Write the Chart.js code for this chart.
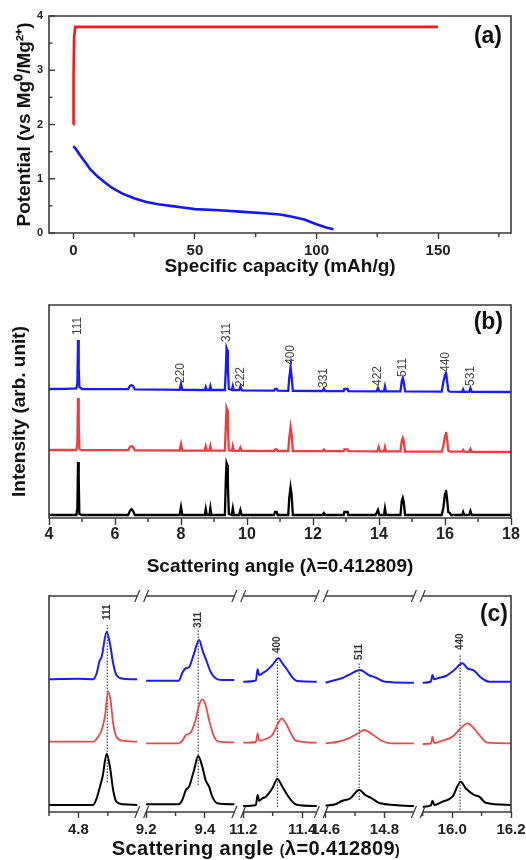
<!DOCTYPE html>
<html>
<head>
<meta charset="utf-8">
<script src="https://cdn.jsdelivr.net/npm/chart.js@4.4.0/dist/chart.umd.min.js"></script>
<style>
  body { margin: 0; background: #fff; }
  canvas { position: absolute; left: 0; }
</style>
</head>
<body>
<canvas id="chartA" width="526" height="280" style="top:0"></canvas>
<canvas id="chartB" width="526" height="300" style="top:280px"></canvas>
<canvas id="chartC" width="526" height="280" style="top:580px"></canvas>
<script>
// ---- (a) charge / discharge ----
const capMajor = [0, 50, 100, 150];
const capMinor = [25, 75, 125, 175];
const potMajor = [0, 1, 2, 3, 4];
const potMinor = [0.5, 1.5, 2.5, 3.5];
const chargeCurve = [[0, 2.0], [0.05, 2.2], [0.15, 2.9], [0.3, 3.6], [0.8, 3.8], [40, 3.8], [80, 3.8], [120, 3.8], [150, 3.8]];
const dischargeCurve = [[0, 1.6], [1, 1.55], [3, 1.42], [5, 1.3], [7, 1.17], [10, 1.04], [13, 0.93], [16, 0.83],
  [20, 0.73], [25, 0.64], [30, 0.57], [35, 0.53], [40, 0.5], [45, 0.47], [50, 0.44], [60, 0.42], [70, 0.39],
  [80, 0.36], [85, 0.34], [90, 0.3], [95, 0.25], [100, 0.16], [104, 0.1], [107, 0.07]];

// ---- (b) full XRD patterns (offset, arb. units) ----
const angleMajor = [4, 6, 8, 10, 12, 14, 16, 18];
const angleMinor = [5, 7, 9, 11, 13, 15, 17];
const blueB = [[4.0,129],[4.5,129.2],[4.83,129.5],[4.86,135],[4.88,178],[4.9,150],[4.92,131],[5.0,129],
  [5.5,128.8],[6.4,128.8],[6.45,132],[6.5,133],[6.55,132],[6.6,128.6],
  [7.5,128.3],[7.96,128.2],[8.0,134],[8.04,128.1],
  [8.72,128],[8.75,131],[8.78,128],[8.86,128],[8.89,132],[8.92,128],
  [9.33,128],[9.36,150],[9.38,170],[9.4,168],[9.42,150],[9.45,129],[9.54,128],[9.57,132],[9.6,127.8],
  [9.76,127.8],[9.8,131.5],[9.84,127.7],
  [10.82,127.3],[10.85,129],[10.9,129],[10.93,127.3],
  [11.25,127.2],[11.28,140],[11.32,151],[11.35,142],[11.39,127.2],
  [12.29,127],[12.33,129.5],[12.37,127],
  [12.93,126.9],[12.95,129],[13.05,129],[13.07,126.9],
  [13.93,126.7],[13.97,130],[14.01,126.7],[14.15,126.7],[14.18,131.5],[14.21,126.7],
  [14.65,126.6],[14.69,137],[14.72,140],[14.75,136],[14.79,126.6],
  [15.9,126.3],[15.95,136],[16.0,143],[16.03,146],[16.06,138],[16.1,127.5],[16.15,126.3],
  [16.52,126.2],[16.55,128.5],[16.58,126.2],[16.73,126.2],[16.77,130],[16.81,126.2],
  [18.0,126]];
const redB = [[4.0,68],[4.5,68],[4.83,68],[4.86,75],[4.88,120],[4.9,95],[4.92,69],[5.0,67.9],
  [6.4,67.8],[6.45,71],[6.5,72],[6.55,71],[6.6,67.7],
  [7.5,67.6],[7.96,67.5],[8.0,74],[8.04,67.5],
  [8.72,67.4],[8.75,71.5],[8.78,67.4],[8.86,67.4],[8.89,72],[8.92,67.4],
  [9.33,67.3],[9.36,95],[9.38,110],[9.4,108],[9.42,92],[9.45,68],[9.54,67.3],[9.57,72],[9.6,67.2],
  [9.76,67.2],[9.8,70.5],[9.84,67.2],
  [10.82,67],[10.85,68.5],[10.9,68.5],[10.93,67],
  [11.25,67],[11.28,80],[11.32,91],[11.35,84],[11.39,67],
  [12.29,66.9],[12.33,68.5],[12.37,66.9],
  [12.93,66.8],[12.95,68.5],[13.05,68.5],[13.07,66.8],
  [13.95,66.7],[13.99,71],[14.03,66.7],[14.15,66.6],[14.18,71],[14.21,66.6],
  [14.65,66.6],[14.69,77],[14.72,80],[14.75,77],[14.79,66.5],
  [15.9,66.4],[15.95,72],[16.0,82],[16.03,86],[16.06,80],[16.1,67.5],[16.15,66.4],
  [16.52,66.3],[16.55,68],[16.58,66.3],[16.73,66.2],[16.77,69],[16.81,66.2],
  [18.0,66]];
const blackB = [[4.0,3],[4.83,3],[4.86,10],[4.88,56],[4.9,40],[4.92,4],[5.0,3],
  [6.4,3],[6.45,7],[6.5,9],[6.55,7],[6.6,3],
  [7.96,3],[8.0,11],[8.04,3],
  [8.72,3],[8.75,9],[8.78,3],[8.86,3],[8.89,10],[8.92,3],
  [9.33,3],[9.36,40],[9.38,55],[9.4,53],[9.42,35],[9.45,4],[9.54,3],[9.57,9.5],[9.6,3],
  [9.76,3],[9.8,8],[9.84,3],
  [10.82,3],[10.85,6],[10.9,6],[10.93,3],
  [11.25,3],[11.28,20],[11.32,31],[11.35,24],[11.39,3],
  [12.29,3],[12.33,5],[12.37,3],
  [12.93,3],[12.95,6],[13.05,6],[13.07,3],
  [13.9,3],[13.97,8],[14.01,3],[14.15,3],[14.18,9.5],[14.21,3],
  [14.65,3],[14.69,17],[14.72,20],[14.75,16],[14.79,3],
  [15.9,3],[15.95,10],[16.0,24],[16.03,28],[16.06,20],[16.1,6],[16.15,5],[16.18,3],
  [16.52,3],[16.55,6],[16.58,3],[16.73,3],[16.77,7],[16.81,3],
  [18.0,3]];
const bPeakLabels = ['111', '220', '311', '222', '400', '331', '422', '511', '440', '531'];
const bPeakPos = [4.88, 8.0, 9.38, 9.8, 11.32, 12.33, 13.97, 14.72, 16.03, 16.77];
const bPeakLabelY = [183, 135, 176, 131, 153, 130, 132, 141, 146, 132];

// ---- (c) zoomed peaks on a broken axis ----
const cSegLo = [4.7, 9.2, 11.2, 14.6, 15.9];
const cSegHi = [5.0, 9.5, 11.45, 14.9, 16.2];
const cMajor = [4.8, 9.2, 9.4, 11.2, 11.4, 14.6, 14.8, 16.0, 16.2];
const cMinor = [4.7, 4.9, 9.3, 11.3, 14.7, 15.9, 16.1];
const blueC = [
  [[4.70,132.7],[4.80,133.3],[4.85,132.7],[4.862,138.7],[4.871,150.3],[4.879,155.3],[4.896,180.3],[4.907,168.7],[4.918,148.7],[4.929,137],[4.952,133.3],[5.0,132.7]],
  [[9.2,131.3],[9.31,131.3],[9.325,140.3],[9.335,143.7],[9.346,144.7],[9.363,158.7],[9.38,172],[9.393,160.3],[9.402,153.7],[9.419,140.3],[9.436,133.7],[9.459,132],[9.5,132]],
  [[11.2,130.3],[11.243,131.5],[11.249,142.7],[11.254,137],[11.265,138.7],[11.282,142],[11.299,147],[11.32,153.7],[11.333,148.7],[11.35,142],[11.367,134.7],[11.384,131],[11.45,130.3]],
  [[14.6,129.3],[14.633,132],[14.655,133.7],[14.678,137],[14.718,142],[14.746,137],[14.768,134.7],[14.802,130.3],[14.9,129.3]],
  [[15.9,129.3],[15.928,130.5],[15.933,137],[15.939,132.7],[15.956,134.3],[15.979,136],[16.007,142],[16.035,148.7],[16.052,143.7],[16.075,141.3],[16.097,134.7],[16.125,130.3],[16.2,130.3]]
];
const redC = [
  [[4.70,70.3],[4.85,70.3],[4.867,75.3],[4.879,82],[4.89,95.3],[4.901,120.3],[4.909,112],[4.918,88.7],[4.929,75.3],[4.952,71.3],[5.0,70.3]],
  [[9.2,68.7],[9.31,68.7],[9.323,71.3],[9.335,77],[9.351,79.3],[9.368,92],[9.38,107],[9.391,112.7],[9.402,107],[9.414,92],[9.431,75.3],[9.447,70.3],[9.5,69.7]],
  [[11.2,69.3],[11.243,70],[11.249,78.7],[11.254,71.3],[11.277,73],[11.299,77],[11.316,87],[11.331,93.7],[11.345,88.7],[11.362,78.7],[11.379,71.3],[11.45,69.3]],
  [[14.6,68.7],[14.644,70.3],[14.678,73.7],[14.706,78],[14.732,82],[14.757,78],[14.791,71.3],[14.825,68.7],[14.9,68.7]],
  [[15.9,68],[15.928,68.5],[15.933,75.3],[15.939,69],[15.967,71.3],[16.001,75.3],[16.029,83.7],[16.052,88.7],[16.069,85.3],[16.097,75.3],[16.12,69.3],[16.2,68.7]]
];
const blackC = [
  [[4.70,7],[4.85,7],[4.862,13.7],[4.873,25.3],[4.882,35.3],[4.896,58],[4.907,45.3],[4.918,22],[4.929,10.3],[4.952,7.7],[5.0,7]],
  [[9.2,7.7],[9.31,7.7],[9.323,12],[9.335,22],[9.346,25.3],[9.363,42],[9.377,56],[9.391,45.3],[9.402,32],[9.414,25.3],[9.425,15.3],[9.442,8.7],[9.5,7.7]],
  [[11.2,6],[11.243,7],[11.249,17],[11.254,11.3],[11.265,13.7],[11.277,15.3],[11.299,23.7],[11.316,33],[11.333,25.3],[11.35,17],[11.367,10.3],[11.384,7],[11.45,6]],
  [[14.6,6.3],[14.633,7.7],[14.655,11],[14.684,13.7],[14.714,22],[14.735,17],[14.757,13.7],[14.785,8.7],[14.9,6]],
  [[15.9,5.3],[15.928,6.7],[15.933,11.3],[15.939,7],[15.967,10.3],[16.001,15.3],[16.029,30.3],[16.046,23.7],[16.075,17],[16.092,15.3],[16.114,9.3],[16.2,7]]
];
const cPeakLabels = ['111', '311', '400', '511', '440'];
const cPeakPos = [4.898, 9.377, 11.316, 14.714, 16.027];
const cRefTop = [187, 182, 150, 149, 157];
const cRefBottom = [30, 27, 5, 12, 2];
const cPeakLabelY = [192, 184, 159, 152, 162];

Chart.defaults.font.family = "'Liberation Sans', Arial, sans-serif";
Chart.defaults.color = '#222';

const FRAME = '#383838';
const FONT = "'Liberation Sans', Arial, sans-serif";
const toXY = pts => pts.map(p => ({ x: p[0], y: p[1] }));

// broken-axis mapping for panel (c)
const cGap = 0.03;
const cSegOff = [];
cSegLo.forEach((lo, i) => {
  cSegOff.push(i === 0 ? 0 : cSegOff[i - 1] + (cSegHi[i - 1] - cSegLo[i - 1]) + cGap);
});
const cMax = cSegOff[cSegOff.length - 1] + cSegHi[cSegHi.length - 1] - cSegLo[cSegLo.length - 1];
function toComp(v) {
  for (let i = 0; i < cSegLo.length; i++) {
    if (v >= cSegLo[i] - 1e-9 && v <= cSegHi[i] + 1e-9) return cSegOff[i] + v - cSegLo[i];
  }
  return NaN;
}
function segmentsToData(segs) {
  const out = [];
  segs.forEach(seg => {
    seg.forEach(p => out.push({ x: toComp(p[0]), y: p[1] }));
    out.push({ x: toComp(seg[seg.length - 1][0]), y: null });
  });
  return out;
}

// frame, minor ticks, break marks
const framePlugin = {
  id: 'frame',
  afterDatasetsDraw(chart, args, o) {
    const { ctx, chartArea: a, scales } = chart;
    const line = (x1, y1, x2, y2) => { ctx.beginPath(); ctx.moveTo(x1, y1); ctx.lineTo(x2, y2); ctx.stroke(); };
    ctx.save();
    ctx.strokeStyle = FRAME;
    ctx.lineWidth = 1.6;
    line(a.left, a.top - 0.8, a.left, a.bottom + 0.8);
    line(a.right, a.top - 0.8, a.right, a.bottom + 0.8);
    const spans = o.spans
      ? o.spans.map(s => [scales.x.getPixelForValue(s[0]), scales.x.getPixelForValue(s[1])])
      : [[a.left, a.right]];
    spans.forEach(([l, r]) => { line(l, a.top, r, a.top); line(l, a.bottom, r, a.bottom); });
    ctx.lineWidth = 1.2;
    if (o.spans) {
      spans.forEach(([l, r], i) => {
        [a.top, a.bottom].forEach(y => {
          if (i > 0) line(l - 2.5, y + 6, l + 2.5, y - 6);
          if (i < spans.length - 1) line(r - 2.5, y + 6, r + 2.5, y - 6);
        });
      });
    }
    ctx.lineWidth = 1.4;
    (o.xMinor || []).forEach(v => {
      const p = scales.x.getPixelForValue(v);
      line(p, a.bottom, p, a.bottom + (o.minorLen || 4));
    });
    (o.yMajorIn || []).forEach(v => {
      const p = scales.y.getPixelForValue(v);
      line(a.left, p, a.left + 6, p);
    });
    (o.yMinorIn || []).forEach(v => {
      const p = scales.y.getPixelForValue(v);
      line(a.left, p, a.left + 3.5, p);
    });
    ctx.restore();
  }
};

// panel letter, rotated peak labels, optional mixed-size axis title
const textPlugin = {
  id: 'texts',
  afterDraw(chart, args, o) {
    const { ctx, chartArea: a, scales } = chart;
    ctx.save();
    ctx.fillStyle = '#111';
    ctx.font = 'bold 23px ' + FONT;
    ctx.textAlign = 'right';
    ctx.textBaseline = 'middle';
    ctx.fillText(o.panel, a.right - o.panelDx, a.top + o.panelDy);
    if (o.labels) {
      ctx.font = o.labelFont;
      ctx.fillStyle = o.labelColor;
      ctx.textAlign = 'left';
      o.labels.forEach((t, i) => {
        const x = scales.x.getPixelForValue(o.labelX[i]);
        const y = scales.y.getPixelForValue(o.labelY[i]);
        ctx.save();
        ctx.translate(x, y);
        ctx.rotate(-Math.PI / 2);
        ctx.fillText(t, 0, 0);
        ctx.restore();
      });
    }
    if (o.titleParts) {
      ctx.fillStyle = '#111';
      ctx.textAlign = 'left';
      ctx.textBaseline = 'alphabetic';
      if ('letterSpacing' in ctx) ctx.letterSpacing = o.titleSpacing || '0px';
      let total = 0;
      o.titleParts.forEach(p => { ctx.font = 'bold ' + p[1] + 'px ' + FONT; total += ctx.measureText(p[0]).width; });
      let x = o.titleX - total / 2;
      o.titleParts.forEach(p => {
        ctx.font = 'bold ' + p[1] + 'px ' + FONT;
        ctx.fillText(p[0], x, o.titleY);
        x += ctx.measureText(p[0]).width;
      });
    }
    ctx.restore();
  }
};

const baseLine = { pointRadius: 0, tension: 0, fill: false, spanGaps: false };
const noPlugins = { legend: { display: false }, tooltip: { enabled: false } };

// Panel (a)
new Chart(document.getElementById('chartA'), {
  type: 'line',
  data: {
    datasets: [
      { ...baseLine, data: toXY(chargeCurve), borderColor: '#ff1414', borderWidth: 2.6 },
      { ...baseLine, data: toXY(dischargeCurve), borderColor: '#1414ff', borderWidth: 2.6 }
    ]
  },
  options: {
    responsive: false,
    animation: false,
    layout: { padding: { left: 0, right: 15, top: 16, bottom: 0 } },
    plugins: {
      ...noPlugins,
      frame: { xMinor: capMinor, yMajorIn: potMajor, yMinorIn: potMinor },
      texts: { panel: '(a)', panelDx: 9, panelDy: 21 }
    },
    scales: {
      x: {
        type: 'linear', min: -10, max: 180,
        afterBuildTicks: s => { s.ticks = capMajor.map(v => ({ value: v })); },
        afterFit: s => { s.height = 47; s.paddingLeft = 0; s.paddingRight = 0; },
        border: { display: false },
        grid: { drawOnChartArea: false, tickLength: 6, tickWidth: 1.4, tickColor: FRAME },
        ticks: { autoSkip: false, maxRotation: 0, padding: 3, color: '#222', font: { size: 15, weight: 'bold' } },
        title: { display: true, text: 'Specific capacity (mAh/g)', color: '#111', font: { size: 19, weight: 'bold' }, padding: { top: 0, bottom: 2 } }
      },
      y: {
        min: 0, max: 4,
        afterBuildTicks: s => { s.ticks = potMajor.map(v => ({ value: v })); },
        afterFit: s => { s.width = 49; s.paddingTop = 0; s.paddingBottom = 0; },
        border: { display: false },
        grid: { display: false, drawTicks: false },
        ticks: { padding: 6, color: '#222', font: { size: 11, weight: 'bold' } },
        title: { display: true, text: 'Potential (vs Mg⁰/Mg²⁺)', color: '#111', font: { size: 19, weight: 'bold' }, padding: { top: 13, bottom: 0 } }
      }
    }
  },
  plugins: [framePlugin, textPlugin]
});

// Panel (b)
new Chart(document.getElementById('chartB'), {
  type: 'line',
  data: {
    datasets: [
      { ...baseLine, data: toXY(blueB), borderColor: '#1a1aff', borderWidth: 2.3 },
      { ...baseLine, data: toXY(redB), borderColor: '#f23c3c', borderWidth: 2.3 },
      { ...baseLine, data: toXY(blackB), borderColor: '#000000', borderWidth: 2.3 }
    ]
  },
  options: {
    responsive: false,
    animation: false,
    layout: { padding: { left: 0, right: 15, top: 25, bottom: 0 } },
    plugins: {
      ...noPlugins,
      frame: { xMinor: angleMinor, minorLen: 4 },
      texts: {
        panel: '(b)', panelDx: 8, panelDy: 18,
        labels: bPeakLabels, labelX: bPeakPos, labelY: bPeakLabelY,
        labelFont: '12px ' + FONT, labelColor: '#444'
      }
    },
    scales: {
      x: {
        type: 'linear', min: 4, max: 18,
        afterBuildTicks: s => { s.ticks = angleMajor.map(v => ({ value: v })); },
        afterFit: s => { s.height = 62; s.paddingLeft = 0; s.paddingRight = 0; },
        border: { display: false },
        grid: { drawOnChartArea: false, tickLength: 7, tickWidth: 1.4, tickColor: FRAME },
        ticks: { autoSkip: false, maxRotation: 0, padding: 0, color: '#222', font: { size: 16, weight: 'bold' } },
        title: { display: true, text: 'Scattering angle (λ=0.412809)', color: '#111', font: { size: 19, weight: 'bold' }, padding: { top: 0, bottom: 2 } }
      },
      y: {
        min: 0, max: 213,
        afterFit: s => { s.width = 49; s.paddingTop = 0; s.paddingBottom = 0; },
        border: { display: false },
        grid: { display: false, drawTicks: false },
        ticks: { display: false },
        title: { display: true, text: 'Intensity (arb. unit)', color: '#111', font: { size: 19, weight: 'bold' }, padding: { top: 8, bottom: 0 } }
      }
    }
  },
  plugins: [framePlugin, textPlugin]
});

// Panel (c)
const refLines = [];
cPeakPos.forEach((p, i) => {
  refLines.push({ x: toComp(p), y: cRefBottom[i] }, { x: toComp(p), y: cRefTop[i] }, { x: toComp(p), y: null });
});
const smooth = { cubicInterpolationMode: 'monotone' };
new Chart(document.getElementById('chartC'), {
  type: 'line',
  data: {
    datasets: [
      { ...baseLine, ...smooth, data: segmentsToData(blueC), borderColor: '#1a1aff', borderWidth: 2 },
      { ...baseLine, ...smooth, data: segmentsToData(redC), borderColor: '#f24646', borderWidth: 1.8 },
      { ...baseLine, ...smooth, data: segmentsToData(blackC), borderColor: '#000000', borderWidth: 2 },
      { ...baseLine, data: refLines, borderColor: '#222', borderWidth: 1, borderDash: [1.5, 1.5] }
    ]
  },
  options: {
    responsive: false,
    animation: false,
    layout: { padding: { left: 0, right: 15, top: 16, bottom: 0 } },
    plugins: {
      ...noPlugins,
      frame: {
        spans: cSegLo.map((lo, i) => [cSegOff[i], cSegOff[i] + cSegHi[i] - lo]),
        xMinor: cMinor.map(toComp), minorLen: 4
      },
      texts: {
        panel: '(c)', panelDx: 3, panelDy: 19,
        labels: cPeakLabels, labelX: cPeakPos.map(toComp), labelY: cPeakLabelY,
        labelFont: 'bold 10px ' + FONT, labelColor: '#333',
        titleParts: [['Scattering angle ', 20], ['(', 14], ['λ=0.412809', 20], [')', 14]],
        titleX: 256, titleY: 275, titleSpacing: '0.4px'
      }
    },
    scales: {
      x: {
        type: 'linear', min: 0, max: cMax,
        afterBuildTicks: s => { s.ticks = cMajor.map(v => ({ value: toComp(v) })); },
        afterFit: s => { s.height = 48; s.paddingLeft = 0; s.paddingRight = 0; },
        border: { display: false },
        grid: { drawOnChartArea: false, tickLength: 6, tickWidth: 1.4, tickColor: FRAME },
        ticks: {
          autoSkip: false, maxRotation: 0, padding: 3, color: '#222', font: { size: 15, weight: 'bold' },
          callback: (v, i) => cMajor[i].toFixed(1)
        }
      },
      y: {
        min: 0, max: 216,
        afterFit: s => { s.width = 49; s.paddingTop = 0; s.paddingBottom = 0; },
        border: { display: false },
        grid: { display: false, drawTicks: false },
        ticks: { display: false }
      }
    }
  },
  plugins: [framePlugin, textPlugin]
});
</script>
</body>
</html>
